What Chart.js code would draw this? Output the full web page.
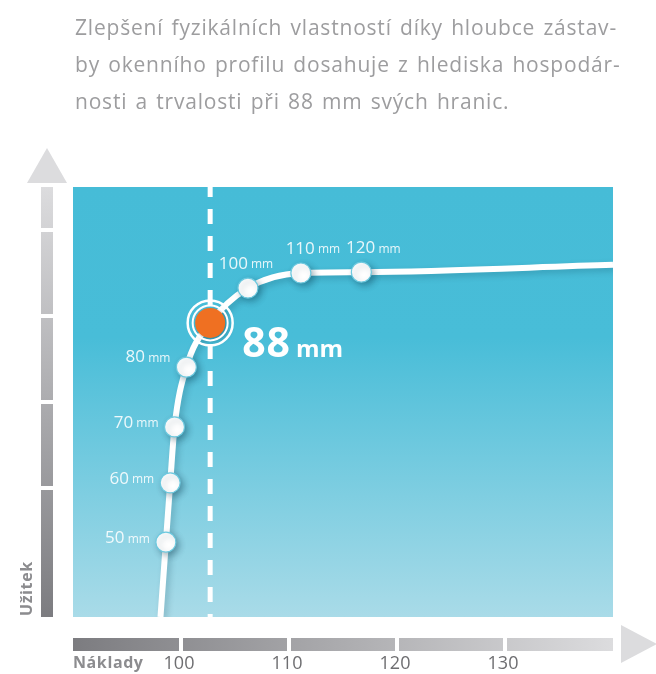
<!DOCTYPE html>
<html>
<head>
<meta charset="utf-8">
<script src="https://cdn.jsdelivr.net/npm/chart.js@4"></script>
<style>
  body { margin: 0; background: #fff; }
  #wrap { position: relative; width: 656px; height: 674px; }
  #intro {
    position: absolute; left: 75px; top: 9px; width: 538px;
    font-family: "Open Sans", sans-serif; font-size: 21px; color: #9d9d9f;
    line-height: 37px; letter-spacing: 0.8px; word-spacing: 2px;
  }
  #intro div { text-align: justify; text-align-last: justify; white-space: nowrap; }
  #intro div.last { text-align-last: left; }
</style>
</head>
<body>
<div id="wrap">
  <canvas id="chart"></canvas>
  <div id="intro">
    <div>Zlepšení fyzikálních vlastností díky hloubce zástav-</div>
    <div>by okenního profilu dosahuje z hlediska hospodár-</div>
    <div class="last">nosti a trvalosti při 88 mm svých hranic.</div>
  </div>
</div>
<script>
// profile depths (mm) and where they sit on the cost / benefit axes
const depths = [50, 60, 70, 80, 88, 100, 110, 120];
const costs = [98.6, 99.0, 99.4, 100.5, 102.7, 106.2, 111.1, 116.7];
const benefit = [17.4, 31.2, 44.2, 58.1, 68.4, 76.5, 80.0, 80.2];
// where the curve enters and leaves the plot
const curveStart = [98.1, 0];
const curveEnd = [140, 81.9];
// axis ticks
const costTicks = [100, 110, 120, 130];
const benefitSteps = [30, 50, 70, 90];
const optimum = 88;

const FONT = '"Open Sans", sans-serif';

const curvePoints = [{x: curveStart[0], y: curveStart[1]}]
    .concat(depths.map((d, i) => ({x: costs[i], y: benefit[i]})))
    .concat([{x: curveEnd[0], y: curveEnd[1]}]);
const markPoints = depths.map((d, i) => ({x: costs[i], y: benefit[i], d: d}))
    .filter(p => p.d !== optimum);
const optIndex = depths.indexOf(optimum);
const optPoint = [{x: costs[optIndex], y: benefit[optIndex], d: optimum}];

const decor = {
    id: 'decor',
    beforeDraw(chart) {
        const {ctx, chartArea: a, scales: {x, y}} = chart;
        ctx.save();
        // plot background
        let g = ctx.createLinearGradient(0, a.top, 0, a.bottom);
        g.addColorStop(0, '#46bcd7');
        g.addColorStop(0.35, '#48bdd8');
        g.addColorStop(1, '#a9dbe8');
        ctx.fillStyle = g;
        ctx.fillRect(a.left, a.top, a.right - a.left, a.bottom - a.top);

        // vertical benefit bar
        const bx = a.left - 32, bw = 12;
        g = ctx.createLinearGradient(0, a.top, 0, a.bottom);
        g.addColorStop(0, '#dcdcde');
        g.addColorStop(1, '#7c7c80');
        ctx.fillStyle = g;
        let edges = [a.bottom].concat(benefitSteps.map(v => y.getPixelForValue(v))).concat([a.top]);
        for (let i = 0; i < edges.length - 1; i++) {
            const y0 = edges[i] - (i === 0 ? 0 : 2);
            const y1 = edges[i + 1] + (i === edges.length - 2 ? 0 : 2);
            ctx.fillRect(bx, y1, bw, y0 - y1);
        }
        ctx.fillStyle = '#dcdcde';
        ctx.beginPath();
        ctx.moveTo(bx + bw / 2 - 20, a.top - 4);
        ctx.lineTo(bx + bw / 2 + 20, a.top - 4);
        ctx.lineTo(bx + bw / 2, a.top - 39);
        ctx.closePath();
        ctx.fill();

        // horizontal cost bar
        const by = a.bottom + 21, bh = 13;
        g = ctx.createLinearGradient(a.left, 0, a.right, 0);
        g.addColorStop(0, '#7c7c80');
        g.addColorStop(1, '#dcdcde');
        ctx.fillStyle = g;
        edges = [a.left].concat(costTicks.map(v => x.getPixelForValue(v))).concat([a.right]);
        for (let i = 0; i < edges.length - 1; i++) {
            const x0 = edges[i] + (i === 0 ? 0 : 2);
            const x1 = edges[i + 1] - (i === edges.length - 2 ? 0 : 2);
            ctx.fillRect(x0, by, x1 - x0, bh);
        }
        ctx.fillStyle = '#dcdcde';
        ctx.beginPath();
        ctx.moveTo(a.right + 8, by - 13);
        ctx.lineTo(a.right + 8, by + 25);
        ctx.lineTo(a.right + 44, by + 6);
        ctx.closePath();
        ctx.fill();

        // axis texts
        ctx.fillStyle = '#6e6e71';
        ctx.font = '18px ' + FONT;
        ctx.textAlign = 'center';
        ctx.textBaseline = 'middle';
        costTicks.forEach(v => ctx.fillText(String(v), x.getPixelForValue(v) - 2, by + 26));
        ctx.fillStyle = '#8c8c8f';
        ctx.font = 'bold 16px ' + FONT;
        ctx.textAlign = 'left';
        ctx.letterSpacing = '0.6px';
        ctx.fillText('Náklady', a.left, by + 25);
        ctx.translate(bx - 14, a.bottom);
        ctx.rotate(-Math.PI / 2);
        ctx.textAlign = 'left';
        ctx.fillText('Užitek', 1, 0);
        ctx.restore();
    },
    beforeDatasetsDraw(chart) {
        const {ctx, chartArea: a, scales: {x}} = chart;
        const px = x.getPixelForValue(costs[optIndex]);
        ctx.save();
        ctx.strokeStyle = '#ffffff';
        ctx.lineWidth = 5;
        ctx.setLineDash([15, 12]);
        ctx.lineDashOffset = 3;
        ctx.beginPath();
        ctx.moveTo(px, a.top - 2);
        ctx.lineTo(px, a.bottom);
        ctx.stroke();
        ctx.restore();
    },
    beforeDatasetDraw(chart, args) {
        const ctx = chart.ctx;
        ctx.save();
        ctx.shadowColor = args.index === 0 ? 'rgba(0,50,70,0.22)' : 'rgba(0,50,70,0.35)';
        ctx.shadowBlur = 6;
        ctx.shadowOffsetX = 3;
        ctx.shadowOffsetY = 3;
    },
    afterDatasetDraw(chart) {
        chart.ctx.restore();
    },
    afterDatasetsDraw(chart) {
        const ctx = chart.ctx;
        ctx.save();
        // rings around the optimum
        const o = chart.getDatasetMeta(2).data[0];
        ctx.strokeStyle = '#ffffff';
        ctx.lineWidth = 2;
        ctx.beginPath();
        ctx.arc(o.x, o.y, 17.5, 0, Math.PI * 2);
        ctx.stroke();
        ctx.lineWidth = 2.5;
        ctx.beginPath();
        ctx.arc(o.x, o.y, 22.5, 0, Math.PI * 2);
        ctx.stroke();

        // depth labels
        ctx.fillStyle = 'rgba(255,255,255,0.88)';
        ctx.textBaseline = 'middle';
        chart.getDatasetMeta(1).data.forEach((el, i) => {
            const d = markPoints[i].d;
            const num = String(d), unit = ' mm';
            ctx.font = '17px ' + FONT;
            const wn = ctx.measureText(num).width;
            ctx.font = '12px ' + FONT;
            const wu = ctx.measureText(unit).width;
            let left, cy;
            if (d < optimum) {
                left = el.x - 16 - wn - wu;
                cy = el.y - (d === 80 ? 10 : 4);
            } else {
                left = el.x + (d === 100 ? -2 : 12) - (wn + wu) / 2;
                cy = el.y - 24;
            }
            ctx.textAlign = 'left';
            ctx.font = '17px ' + FONT;
            ctx.fillText(num, left, cy);
            ctx.font = '12px ' + FONT;
            ctx.fillText(unit, left + wn, cy + 1);
        });

        // optimum label
        ctx.fillStyle = '#ffffff';
        ctx.textBaseline = 'alphabetic';
        ctx.font = 'bold 41px ' + FONT;
        ctx.letterSpacing = '1px';
        ctx.fillText(String(optimum), o.x + 32, o.y + 34);
        const w88 = ctx.measureText(String(optimum)).width;
        ctx.letterSpacing = '0px';
        ctx.font = 'bold 24px ' + FONT;
        ctx.fillText('mm', o.x + 32 + w88 + 5, o.y + 34);
        ctx.restore();
    }
};

new Chart(document.getElementById('chart'), {
    type: 'line',
    data: {
        datasets: [
            {
                label: 'curve',
                data: curvePoints,
                order: 2,
                borderColor: '#ffffff',
                borderWidth: 6,
                pointRadius: 0,
                cubicInterpolationMode: 'monotone',
                fill: false
            },
            {
                label: 'depths',
                data: markPoints,
                order: 1,
                showLine: false,
                pointRadius: 10,
                pointBackgroundColor: '#ffffff',
                pointBorderColor: '#6cc9df',
                pointBorderWidth: 1.2
            },
            {
                label: 'optimum',
                data: optPoint,
                order: 0,
                showLine: false,
                pointRadius: 15,
                pointBackgroundColor: '#ef7022',
                pointBorderColor: '#ef7022',
                pointBorderWidth: 0
            }
        ]
    },
    options: {
        responsive: true,
        maintainAspectRatio: false,
        animation: false,
        layout: { padding: { left: 73, top: 187, right: 43, bottom: 57 } },
        scales: {
            x: { type: 'linear', min: 90, max: 140, display: false },
            y: { type: 'linear', min: 0, max: 100, display: false }
        },
        plugins: {
            legend: { display: false },
            tooltip: { enabled: false }
        }
    },
    plugins: [decor]
});
</script>
</body>
</html>
